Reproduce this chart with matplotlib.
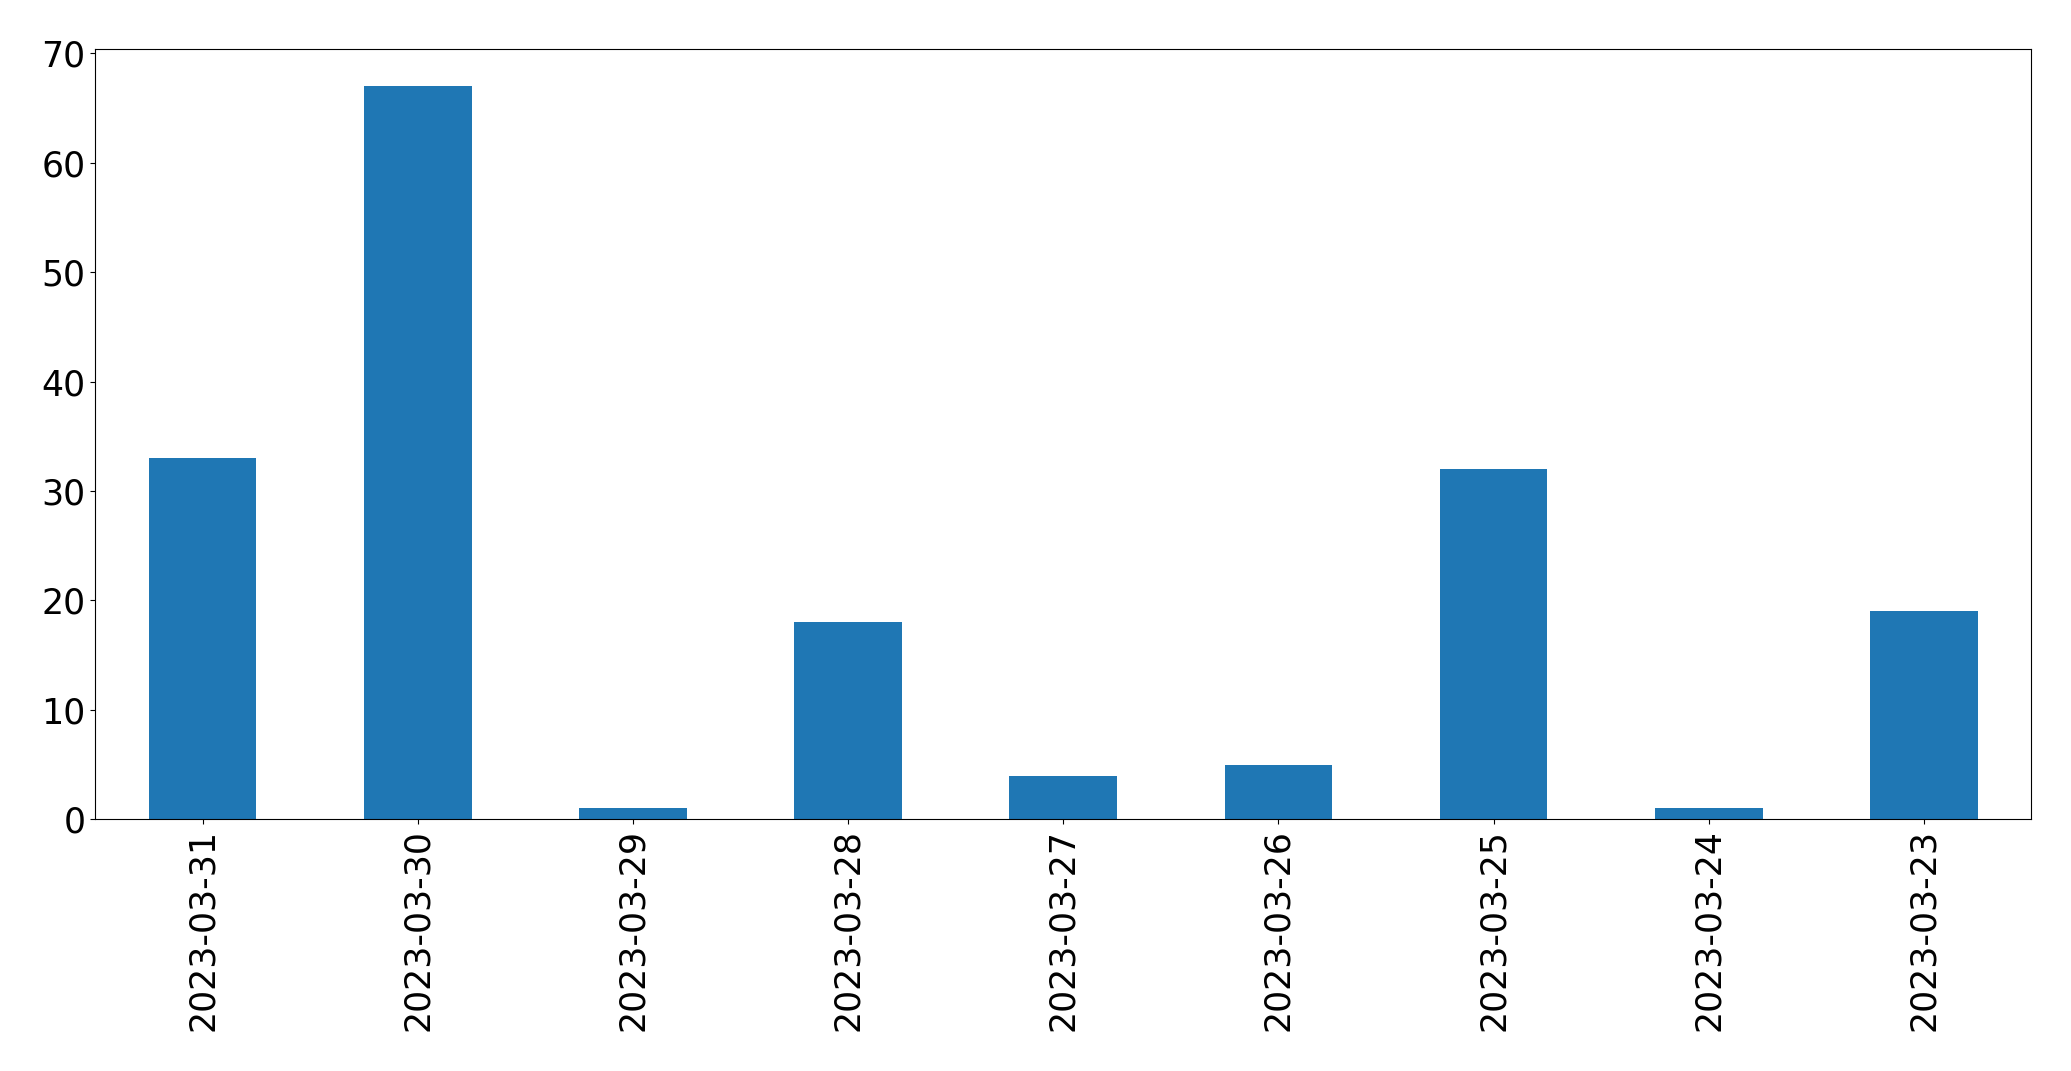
import matplotlib
matplotlib.use('Agg')
import matplotlib.pyplot as plt
import pandas as pd

dates = ['2023-03-31', '2023-03-30', '2023-03-29', '2023-03-28', '2023-03-27',
         '2023-03-26', '2023-03-25', '2023-03-24', '2023-03-23']
counts = [33, 67, 1, 18, 4, 5, 32, 1, 19]

s = pd.Series(counts, index=dates)

fig = plt.figure(figsize=(20.71, 10.71), dpi=100)
ax = fig.add_axes([0.0459, 0.235, 0.9350, 0.7188])
s.plot(kind='bar', ax=ax, color='#1f77b4', fontsize=25)

fig.savefig('out.png', dpi=100)
